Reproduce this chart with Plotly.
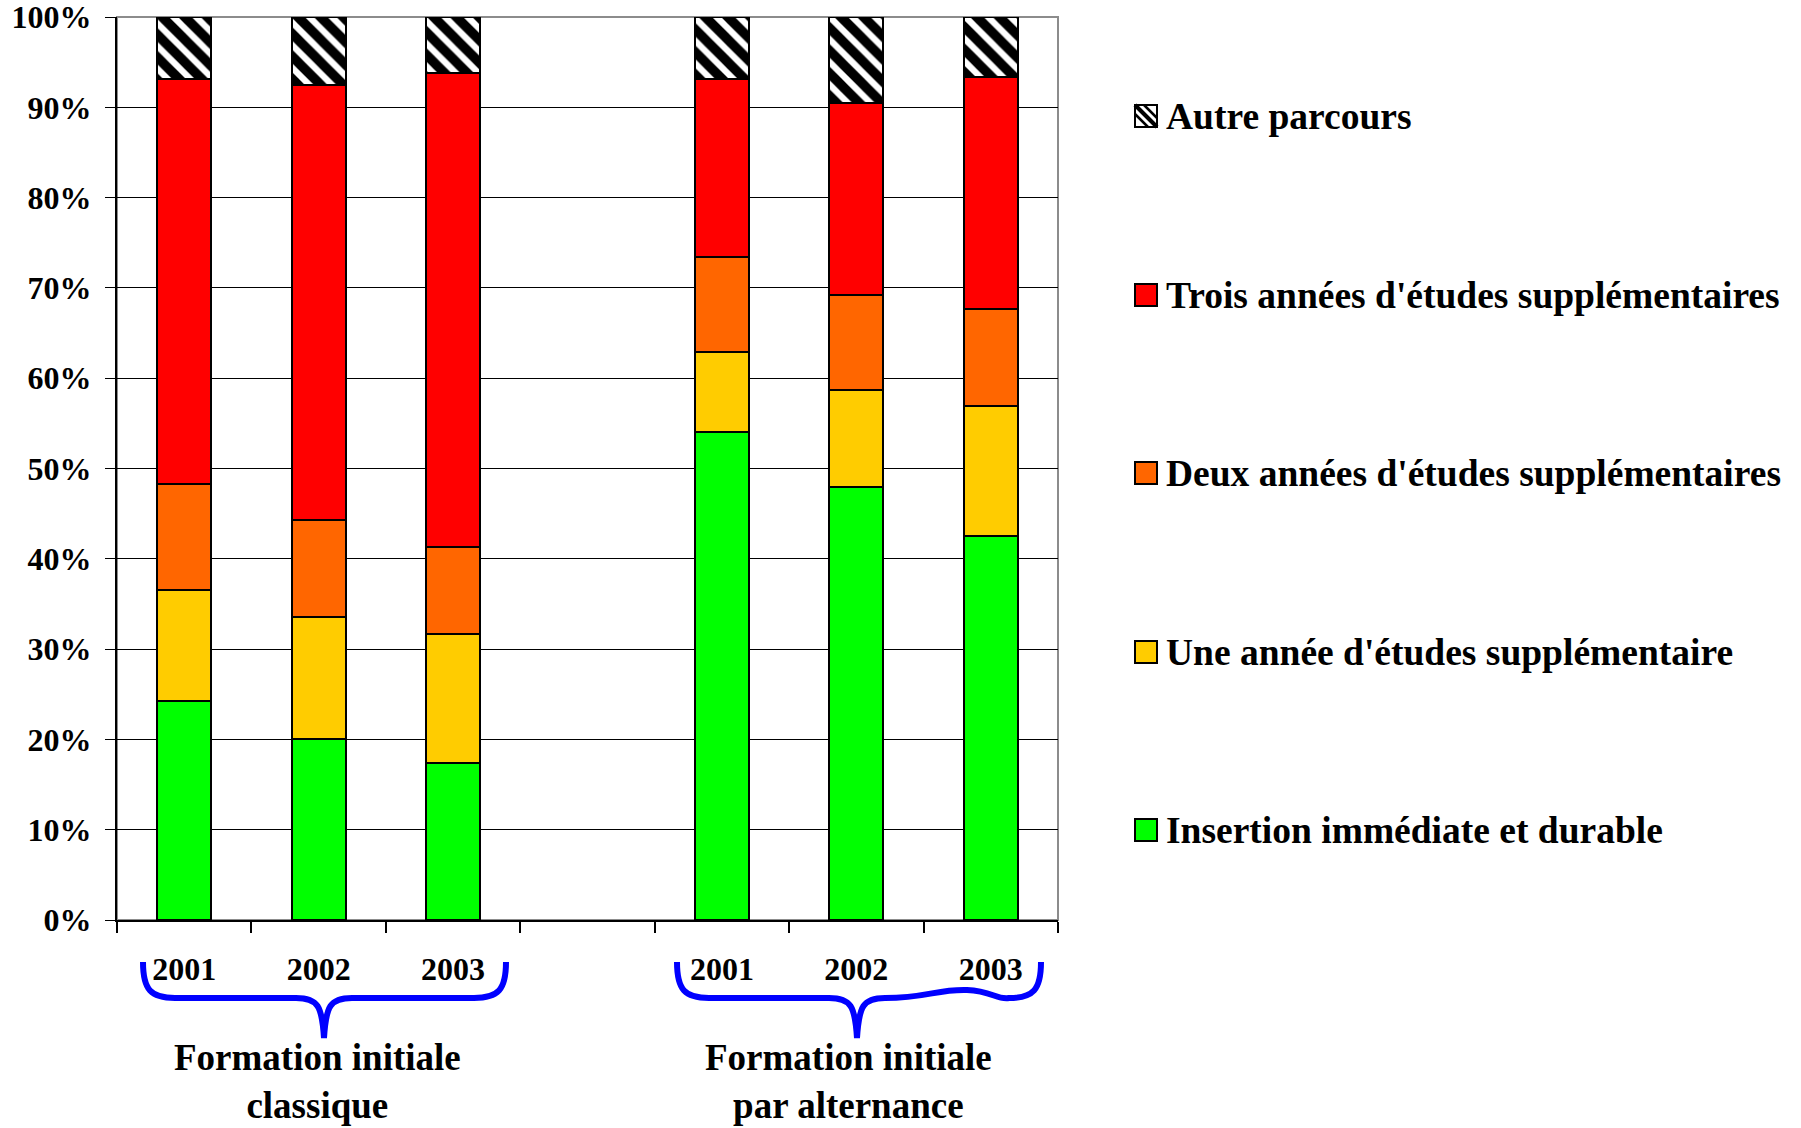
import plotly.graph_objects as go

# ---------------- data ----------------
years = ["2001", "2002", "2003", "2001", "2002", "2003"]
slots = [0, 1, 2, 4, 5, 6]
groups = ["Formation initiale<br>classique", "Formation initiale<br>par alternance"]

insertion = [24.3, 20.1, 17.4, 54.0, 47.9, 42.5]
une_annee = [12.2, 13.5, 14.3, 8.9, 10.8, 14.4]
deux_annees = [11.8, 10.7, 9.6, 10.5, 10.5, 10.8]
trois_annees = [44.8, 48.2, 52.5, 19.7, 21.3, 25.7]
autre = [6.9, 7.5, 6.2, 6.9, 9.5, 6.6]

series_names = [
    "Insertion immédiate et durable",
    "Une année d'études supplémentaire",
    "Deux années d'études supplémentaires",
    "Trois années d'études supplémentaires",
    "Autre parcours",
]
series_values = [insertion, une_annee, deux_annees, trois_annees, autre]
series_colors = ["#00FF00", "#FFCC00", "#FF6600", "#FF0000", "#FFFFFF"]

y_ticks = list(range(0, 101, 10))
y_ticktext = [f"{v}%" for v in y_ticks]

# ---------------- layout geometry (pixels) ----------------
W, H = 1801, 1128
L, R, T, B = 117, 1058, 17, 920
FONT = "Liberation Serif"


def px(xp):
    return (xp - L) / (R - L)


def py(yp):
    return (B - yp) / (B - T)


fig = go.Figure()
for name, vals, col in zip(series_names, series_values, series_colors):
    marker = dict(color=col, line=dict(color="black", width=2))
    if name == "Autre parcours":
        marker["pattern"] = dict(shape="\\", fgcolor="#000000", bgcolor="#FFFFFF",
                                 fgopacity=1, fillmode="replace",
                                 size=16, solidity=0.6)
    fig.add_trace(go.Bar(x=slots, y=vals, name=name, marker=marker,
                         width=0.4, showlegend=False))

shapes = []
annotations = []

# plot frame (grey top/right)
shapes.append(dict(type="rect", xref="paper", yref="paper", x0=0, x1=1, y0=0, y1=1,
                   line=dict(color="#8C8C8C", width=2), layer="between"))

# custom legend (top to bottom: Autre ... Insertion)
leg_y = [116, 295, 473, 652, 830]
order = list(range(len(series_names)))[::-1]
for yc, i in zip(leg_y, order):
    x0, x1 = 1135, 1157
    y0, y1 = yc - 11, yc + 11
    shapes.append(dict(type="rect", xref="paper", yref="paper",
                       x0=px(x0), x1=px(x1), y0=py(y1), y1=py(y0),
                       fillcolor=series_colors[i], line=dict(color="black", width=2)))
    if series_names[i] == "Autre parcours":
        for off, w in [(0, 4), (-9, 2.5), (9, 2.5)]:
            xa, ya = x0 + max(0, off), y0 + max(0, -off)
            xb, yb = x1 - max(0, -off), y1 - max(0, off)
            shapes.append(dict(type="line", xref="paper", yref="paper",
                               x0=px(xa), y0=py(ya), x1=px(xb), y1=py(yb),
                               line=dict(color="black", width=w)))
    annotations.append(dict(xref="paper", yref="paper", x=px(1164), y=py(yc),
                            xanchor="left", yanchor="middle", showarrow=False,
                            text=series_names[i],
                            font=dict(family=FONT, size=37.5, color="black", weight="bold")))


# braces
def brace(xl, xr, xc, ytop, yh, ytip, wave=False):
    p = f"M{px(xl)},{py(ytop)} C{px(xl)},{py(yh - 8)} {px(xl + 8)},{py(yh)} {px(xl + 32)},{py(yh)} "
    p += f"L{px(xc - 28)},{py(yh)} C{px(xc - 6)},{py(yh)} {px(xc - 2)},{py(yh + 8)} {px(xc)},{py(ytip)} "
    p += f"C{px(xc + 2)},{py(yh + 8)} {px(xc + 6)},{py(yh)} {px(xc + 28)},{py(yh)} "
    if wave:
        p += f"C{px(xc + 70)},{py(yh)} {px(xc + 80)},{py(yh - 9)} {px(xc + 110)},{py(yh - 8)} "
        p += f"C{px(xc + 135)},{py(yh - 7)} {px(xc + 140)},{py(yh + 2)} {px(xr - 32)},{py(yh)} "
    else:
        p += f"L{px(xr - 32)},{py(yh)} "
    p += f"C{px(xr - 8)},{py(yh)} {px(xr)},{py(yh - 8)} {px(xr)},{py(ytop)}"
    return p


shapes.append(dict(type="path", xref="paper", yref="paper",
                   path=brace(143, 506, 324, 962, 998, 1038),
                   line=dict(color="#0000FF", width=6)))
shapes.append(dict(type="path", xref="paper", yref="paper",
                   path=brace(677, 1041, 857, 962, 998, 1038, wave=True),
                   line=dict(color="#0000FF", width=6)))

for g, xc in zip(groups, [317, 848]):
    annotations.append(dict(xref="paper", yref="paper", x=px(xc), y=py(1081),
                            xanchor="center", yanchor="middle", showarrow=False,
                            text=g, align="center",
                            font=dict(family=FONT, size=37, color="black", weight="bold")))

fig.update_layout(
    barmode="stack",
    width=W, height=H,
    margin=dict(l=L, r=W - R, t=T, b=H - B, autoexpand=False),
    paper_bgcolor="white", plot_bgcolor="white",
    shapes=shapes, annotations=annotations,
    xaxis=dict(range=[-0.5, 6.5], tickmode="array", tickvals=slots, ticktext=years,
               ticks="", showgrid=False, zeroline=False,
               showline=True, linecolor="black", linewidth=2,
               tickfont=dict(family=FONT, size=32, color="black", weight="bold"),
               ticklabelstandoff=20,
               minor=dict(tickmode="array", tickvals=[v - 0.5 for v in range(8)],
                          ticks="outside", ticklen=11, tickcolor="black", tickwidth=1.5,
                          showgrid=False)),
    yaxis=dict(range=[0, 100], tickmode="array", tickvals=y_ticks, ticktext=y_ticktext,
               showgrid=True, gridcolor="black", gridwidth=1, zeroline=False,
               showline=True, linecolor="black", linewidth=2,
               ticks="outside", ticklen=10, tickcolor="black",
               tickfont=dict(family=FONT, size=32, color="black", weight="bold"),
               ticklabelstandoff=7, ticklabeloverflow="allow"),
)

fig.write_html(
    "out.html",
    config={"displayModeBar": False},
    post_script="document.body.style.margin='0';document.body.style.overflow='hidden';",
)
